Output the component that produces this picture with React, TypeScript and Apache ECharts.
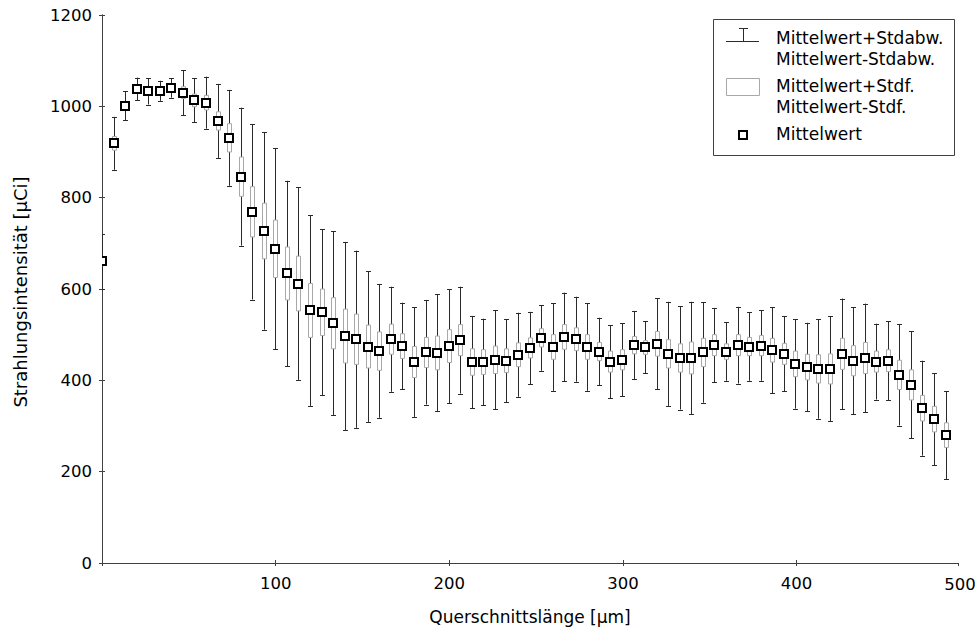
import React, { useEffect, useRef } from "react";
import * as echarts from "echarts";

// Querschnittslänge [µm] positions of each measurement
const positions = [
  0, 6.66, 13.31, 19.97, 26.62, 33.28, 39.93, 46.59, 53.24, 59.9,
  66.55, 73.21, 79.86, 86.52, 93.17, 99.83, 106.48, 113.14, 119.79, 126.45,
  133.1, 139.76, 146.41, 153.07, 159.72, 166.38, 173.03, 179.69, 186.34, 193.0,
  199.65, 206.31, 212.96, 219.62, 226.27, 232.93, 239.58, 246.24, 252.89, 259.55,
  266.2, 272.86, 279.51, 286.17, 292.82, 299.48, 306.13, 312.79, 319.44, 326.1,
  332.75, 339.41, 346.06, 352.72, 359.37, 366.03, 372.68, 379.34, 385.99, 392.65,
  399.3, 405.96, 412.61, 419.27, 425.92, 432.58, 439.23, 445.89, 452.54, 459.2,
  465.85, 472.51, 479.16, 485.82,
];

// Mittelwert
const means = [
  661, 919, 1001, 1038, 1033, 1034, 1040, 1030, 1013, 1008,
  968, 931, 846, 769, 727, 688, 634, 612, 553, 549,
  525, 497, 490, 474, 464, 490, 475, 440, 461, 460,
  475, 488, 440, 440, 445, 443, 456, 471, 493, 473,
  495, 490, 473, 463, 441, 445, 477, 472, 480, 458,
  449, 449, 461, 477, 463, 477, 474, 476, 466, 458,
  436, 429, 425, 425, 458, 443, 449, 441, 443, 412,
  390, 339, 315, 280,
];

// Standardabweichung (whiskers)
const stdDevs = [
  60, 58, 32, 25, 29, 22, 21, 49, 48, 57,
  81, 105, 151, 192, 216, 220, 203, 211, 209, 182,
  201, 206, 194, 165, 146, 115, 95, 120, 114, 128,
  125, 117, 101, 95, 108, 91, 92, 79, 72, 96,
  97, 93, 96, 74, 80, 80, 75, 57, 100, 114,
  113, 123, 110, 81, 64, 84, 75, 77, 94, 82,
  98, 97, 109, 115, 121, 117, 119, 83, 86, 111,
  117, 104, 101, 96,
];

// Standardfehler (boxes)
const stdErrs = [
  10, 15, 8, 7, 8, 7, 7, 13, 14, 16,
  20, 31, 43, 55, 61, 63, 58, 60, 59, 51,
  56, 59, 55, 47, 42, 33, 27, 34, 33, 37,
  36, 34, 29, 27, 30, 26, 26, 22, 20, 27,
  27, 25, 27, 20, 23, 22, 19, 15, 27, 31,
  31, 35, 31, 23, 17, 23, 20, 22, 26, 23,
  28, 28, 31, 33, 34, 33, 34, 23, 24, 32,
  33, 28, 28, 27,
];

const yTicks = [0, 200, 400, 600, 800, 1000, 1200];
const xTickLabels = ["100", "200", "300", "400", "500"];

const legendLabels = [
  "Mittelwert+Stdabw.",
  "Mittelwert-Stdabw.",
  "Mittelwert+Stdf.",
  "Mittelwert-Stdf.",
  "Mittelwert",
];

const FONT = "DejaVu Sans";
const AXIS_COLOR = "#404040";

export default function App() {
  const ref = useRef<HTMLDivElement>(null);

  useEffect(() => {
    document.body.style.margin = "0";
    if (!ref.current) return;
    const chart = echarts.init(ref.current, undefined, { renderer: "svg" });

    const rows = positions.map((x, i) => [x, means[i], stdDevs[i], stdErrs[i]]);
    const snap = (v: number) => Math.round(v) + 0.5;

    const xMax = 493;
    const axisCommon = {
      axisLine: { show: true, lineStyle: { color: AXIS_COLOR, width: 1 } },
      axisTick: { show: true, inside: true, length: 3, lineStyle: { color: AXIS_COLOR } },
      splitLine: { show: false },
    };

    const option: any = {
      animation: false,
      grid: { left: 102, right: 21, top: 15, bottom: 72, containLabel: false },
      xAxis: [
        {
          type: "value",
          min: 0,
          max: xMax,
          interval: 100,
          position: "bottom",
          ...axisCommon,
          axisLabel: {
            margin: 12,
            color: "#000",
            fontFamily: FONT,
            fontSize: 16.5,
            showMaxLabel: false,
            formatter: (v: number) => (v === 0 ? "" : xTickLabels.includes(String(v)) ? String(v) : ""),
          },
        },
        {
          type: "value",
          min: 0,
          max: xMax,
          interval: 100,
          position: "top",
          ...axisCommon,
          axisLabel: { show: false },
        },
      ],
      yAxis: [
        {
          type: "value",
          min: yTicks[0],
          max: yTicks[yTicks.length - 1],
          interval: 200,
          position: "left",
          ...axisCommon,
          axisLabel: {
            margin: 10,
            color: "#000",
            fontFamily: FONT,
            fontSize: 16.5,
            formatter: (v: number) => String(v),
          },
        },
        {
          type: "value",
          min: yTicks[0],
          max: yTicks[yTicks.length - 1],
          interval: 200,
          position: "right",
          ...axisCommon,
          axisLabel: { show: false },
        },
      ],
      series: [
        {
          type: "custom",
          name: "Stdabw",
          clip: true,
          xAxisIndex: 0,
          yAxisIndex: 0,
          data: rows,
          encode: { x: 0, y: 1 },
          renderItem: (params: any, api: any) => {
            const x = api.value(0);
            const m = api.value(1);
            const s = api.value(2);
            const top = api.coord([x, m + s]);
            const bot = api.coord([x, m - s]);
            const px = snap(top[0]);
            const cap = 2.5;
            const st = { stroke: "#2a2a2a", lineWidth: 1 };
            return {
              type: "group",
              children: [
                { type: "line", shape: { x1: px, y1: top[1], x2: px, y2: bot[1] }, style: st },
                { type: "line", shape: { x1: px - cap, y1: snap(top[1]), x2: px + cap, y2: snap(top[1]) }, style: st },
                { type: "line", shape: { x1: px - cap, y1: snap(bot[1]), x2: px + cap, y2: snap(bot[1]) }, style: st },
              ],
            };
          },
          z: 2,
        },
        {
          type: "custom",
          name: "Stdf",
          clip: true,
          xAxisIndex: 0,
          yAxisIndex: 0,
          data: rows,
          encode: { x: 0, y: 1 },
          renderItem: (params: any, api: any) => {
            const x = api.value(0);
            const m = api.value(1);
            const e = api.value(3);
            const top = api.coord([x, m + e]);
            const bot = api.coord([x, m - e]);
            const px = snap(top[0]);
            return {
              type: "rect",
              shape: { x: px - 2, y: top[1], width: 4, height: bot[1] - top[1] },
              style: { fill: "#fff", stroke: "#a8a8a8", lineWidth: 1 },
            };
          },
          z: 3,
        },
        {
          type: "custom",
          name: "Mittelwert",
          clip: true,
          xAxisIndex: 0,
          yAxisIndex: 0,
          data: rows,
          encode: { x: 0, y: 1 },
          renderItem: (params: any, api: any) => {
            const p = api.coord([api.value(0), api.value(1)]);
            const cx = Math.round(p[0]);
            const cy = Math.round(p[1]);
            return {
              type: "rect",
              shape: { x: cx - 4, y: cy - 4, width: 8, height: 8 },
              style: { fill: "#fff", stroke: "#000", lineWidth: 2 },
            };
          },
          z: 4,
        },
      ],
      graphic: [
        {
          type: "text",
          x: 960,
          y: 584,
          style: {
            text: xTickLabels[xTickLabels.length - 1],
            font: `16.5px "${FONT}"`,
            fill: "#000",
            align: "center",
            verticalAlign: "middle",
          },
        },
        {
          type: "text",
          x: 530,
          y: 617,
          style: {
            text: "Querschnittslänge [µm]",
            font: `17px "${FONT}"`,
            fill: "#000",
            align: "center",
            verticalAlign: "middle",
          },
        },
        {
          type: "text",
          x: 20,
          y: 292,
          rotation: Math.PI / 2,
          style: {
            text: "Strahlungsintensität [µCi]",
            font: `18px "${FONT}"`,
            fill: "#000",
            align: "center",
            verticalAlign: "middle",
          },
        },
        // legend
        {
          type: "rect",
          shape: { x: 713.5, y: 19.5, width: 241, height: 136 },
          style: { fill: "#fff", stroke: AXIS_COLOR, lineWidth: 1 },
          z: 10,
        },
        {
          type: "line",
          shape: { x1: 726, y1: 41.5, x2: 759, y2: 41.5 },
          style: { stroke: "#2a2a2a", lineWidth: 1 },
          z: 11,
        },
        {
          type: "line",
          shape: { x1: 743.5, y1: 28, x2: 743.5, y2: 41.5 },
          style: { stroke: "#2a2a2a", lineWidth: 1 },
          z: 11,
        },
        {
          type: "line",
          shape: { x1: 739, y1: 28.5, x2: 748, y2: 28.5 },
          style: { stroke: "#2a2a2a", lineWidth: 1 },
          z: 11,
        },
        {
          type: "rect",
          shape: { x: 726.5, y: 78.5, width: 33, height: 17 },
          style: { fill: "#fff", stroke: "#a8a8a8", lineWidth: 1 },
          z: 11,
        },
        {
          type: "rect",
          shape: { x: 739, y: 131, width: 8, height: 8 },
          style: { fill: "#fff", stroke: "#000", lineWidth: 2 },
          z: 11,
        },
        ...legendLabels.map((t, i) => ({
          type: "text",
          x: 776,
          y: [38, 59, 86, 107, 134][i],
          style: {
            text: t,
            font: `17px "${FONT}"`,
            fill: "#000",
            align: "left",
            verticalAlign: "middle",
          },
          z: 11,
        })),
      ],
    };

    chart.setOption(option);
    return () => chart.dispose();
  }, []);

  return <div ref={ref} style={{ width: 979, height: 635 }} />;
}
